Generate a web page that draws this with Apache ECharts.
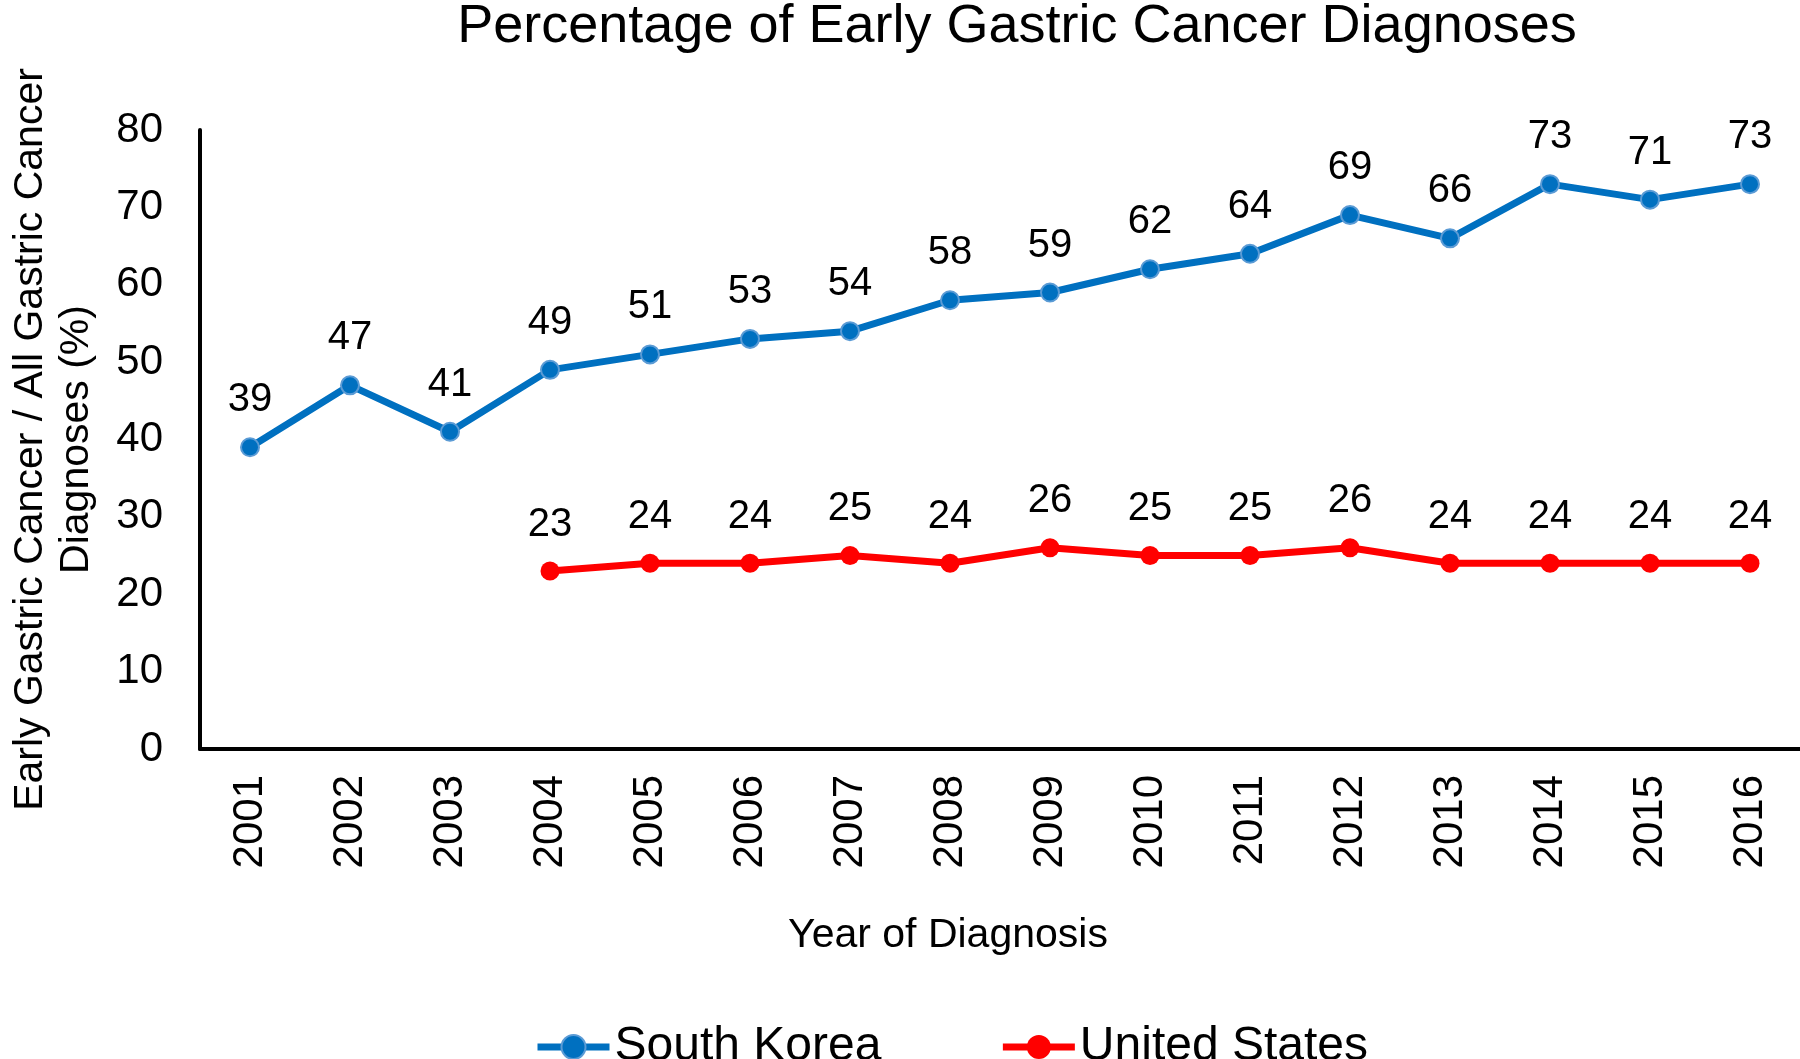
<!DOCTYPE html>
<html>
<head>
<meta charset="utf-8">
<script src="https://cdn.jsdelivr.net/npm/echarts@6/dist/echarts.min.js"></script>
<style>html,body{margin:0;padding:0;background:#fff;}#c{width:1800px;height:1059px;}</style>
</head>
<body>
<div id="c"></div>
<script>
const years = ['2001','2002','2003','2004','2005','2006','2007','2008','2009','2010','2011','2012','2013','2014','2015','2016'];
const southKorea = [39,47,41,49,51,53,54,58,59,62,64,69,66,73,71,73];
const unitedStates = [null,null,null,23,24,24,25,24,26,25,25,26,24,24,24,24];
const yTicks = { min: 0, max: 80, interval: 10 };

const FONT = '"Liberation Sans", Arial, sans-serif';
const chart = echarts.init(document.getElementById('c'));
chart.setOption({
  backgroundColor: '#fff',
  animation: false,
  textStyle: { fontFamily: FONT, color: '#000' },
  title: {
    text: 'Percentage of Early Gastric Cancer Diagnoses',
    left: 1012, top: -5, textAlign: 'center',
    textStyle: { fontFamily: FONT, fontSize: 54, fontWeight: 'normal', color: '#000' }
  },
  legend: {
    left: 529, top: 1018,
    itemWidth: 72, itemHeight: 30, itemGap: 118, itemTextGap: 5,
    lineStyle: { width: 7 },
    textStyle: { fontFamily: FONT, fontSize: 48, color: '#000' },
    data: ['South Korea', 'United States']
  },
  grid: { left: 186, right: 0, top: 130, bottom: 310, containLabel: false },
  xAxis: {
    type: 'category', data: years, boundaryGap: true,
    name: 'Year of Diagnosis', nameLocation: 'middle', nameGap: 166,
    nameTextStyle: { fontFamily: FONT, fontSize: 41, color: '#000', padding: [0, 104, 0, 0] },
    axisLine: { lineStyle: { color: '#000', width: 4 } },
    axisTick: { show: false },
    axisLabel: { rotate: 90, margin: 26, fontFamily: FONT, fontSize: 42, color: '#000' }
  },
  yAxis: {
    type: 'value', min: yTicks.min, max: yTicks.max, interval: yTicks.interval,
    name: 'Early Gastric Cancer / All Gastric Cancer\nDiagnoses (%)', nameLocation: 'middle', nameGap: 100,
    nameTextStyle: { fontFamily: FONT, fontSize: 41, color: '#000', lineHeight: 46 },
    axisLine: { show: true, lineStyle: { color: '#000', width: 4 } },
    axisTick: { show: false },
    splitLine: { show: false },
    axisLabel: { margin: 37, fontFamily: FONT, fontSize: 42, color: '#000' }
  },
  series: [
    {
      name: 'South Korea', type: 'line', data: southKorea,
      symbol: 'circle', symbolSize: 18,
      lineStyle: { color: '#0070C0', width: 7 },
      itemStyle: { color: '#0070C0', borderColor: '#5B9BD5', borderWidth: 2 },
      label: { show: true, position: 'top', distance: 17, fontFamily: FONT, fontSize: 40, color: '#000' }
    },
    {
      name: 'United States', type: 'line', data: unitedStates,
      symbol: 'circle', symbolSize: 19,
      lineStyle: { color: '#FF0000', width: 7 },
      itemStyle: { color: '#FF0000' },
      label: { show: true, position: 'top', distance: 17, fontFamily: FONT, fontSize: 40, color: '#000' }
    }
  ]
});
</script>
</body>
</html>
